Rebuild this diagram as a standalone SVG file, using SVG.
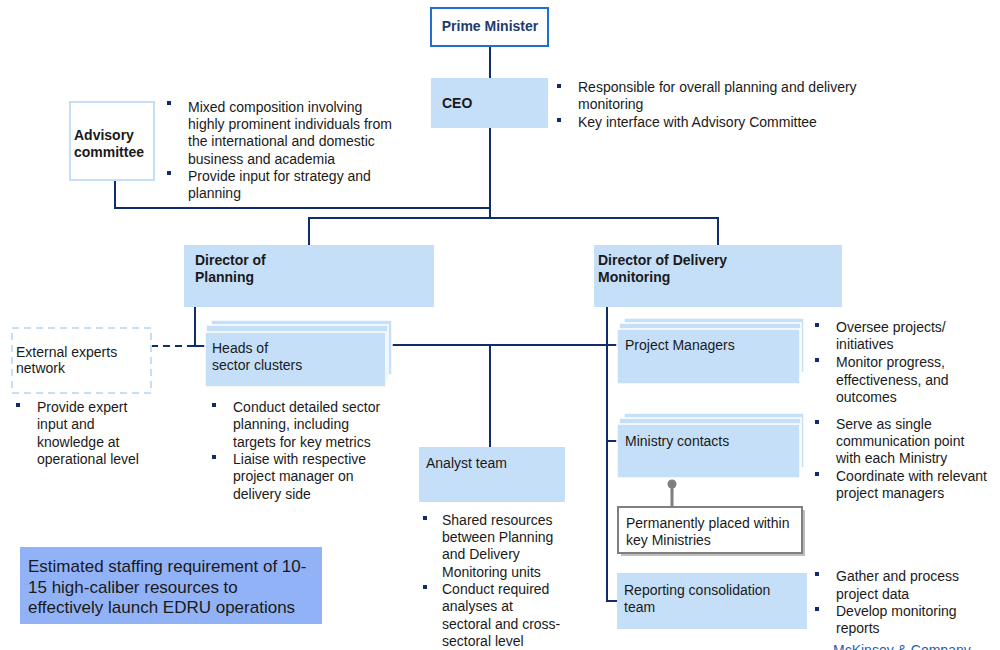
<svg xmlns="http://www.w3.org/2000/svg" width="1000" height="650" viewBox="0 0 1000 650">
<style>
text{font-family:"Liberation Sans",Arial,sans-serif;font-size:14px;fill:#1a1a1a}
.b{font-weight:bold}
.box{fill:#c6dff8}
.stk{fill:#c6dff8;stroke:#ffffff;stroke-width:1.5}
.ln{fill:none;stroke:#0f2d6b;stroke-width:2}
.bul{fill:#0f2d6b}
.big{font-size:17px}
</style>
<defs>
<rect id="sq" width="4" height="4" class="bul"/>
</defs>
<rect width="1000" height="650" fill="#ffffff"/>

<g id="connectors">
<path class="ln" d="M490 46 V78 M490 128 V218 M115 181 V208 H490 M309 245 V218 H718 V245"/>
<path class="ln" d="M195 307 V346 H205"/>
<path d="M151 346 H195" fill="none" stroke="#0f2d6b" stroke-width="2" stroke-dasharray="7,5"/>
<path class="ln" d="M392 345 H617 M490 345 V447"/>
<path class="ln" d="M607 307 V601 H617 M607 441 H617"/>
</g>

<g id="prime-minister">
<rect x="431" y="8" width="117" height="38" fill="#ffffff" stroke="#1f6fcf" stroke-width="2"/>
<text x="490" y="31" class="b" text-anchor="middle" style="fill:#1f3a6e">Prime Minister</text>
</g>

<g id="ceo">
<rect x="431" y="78" width="117" height="50" class="box"/>
<text x="442" y="108" class="b">CEO</text>
<use href="#sq" x="557" y="84"/>
<use href="#sq" x="557" y="118"/>
<text x="578" y="92">Responsible for overall planning and delivery</text>
<text x="578" y="109">monitoring</text>
<text x="578" y="127">Key interface with Advisory Committee</text>
</g>

<g id="advisory">
<rect x="70" y="102" width="84" height="78" fill="#ffffff" stroke="#c6dff8" stroke-width="2"/>
<text x="74" y="140" class="b">Advisory</text>
<text x="74" y="157" class="b">committee</text>
<use href="#sq" x="167" y="101"/>
<use href="#sq" x="167" y="171"/>
<text x="188" y="112">Mixed composition involving</text>
<text x="188" y="129">highly prominent individuals from</text>
<text x="188" y="146">the international and domestic</text>
<text x="188" y="164">business and academia</text>
<text x="188" y="181">Provide input for strategy and</text>
<text x="188" y="198">planning</text>
</g>

<g id="director-planning">
<rect x="184" y="245" width="250" height="62" class="box"/>
<text x="195" y="265" class="b">Director of</text>
<text x="195" y="282" class="b">Planning</text>
</g>

<g id="director-delivery">
<rect x="594" y="245" width="248" height="62" class="box"/>
<text x="598" y="265" class="b">Director of Delivery</text>
<text x="598" y="282" class="b">Monitoring</text>
</g>

<g id="external-experts">
<rect x="12" y="328" width="139" height="65" fill="#ffffff" stroke="#c6dff8" stroke-width="2" stroke-dasharray="7,5"/>
<text x="16" y="357">External experts</text>
<text x="16" y="373">network</text>
<use href="#sq" x="16" y="403"/>
<text x="37" y="412">Provide expert</text>
<text x="37" y="429">input and</text>
<text x="37" y="447">knowledge at</text>
<text x="37" y="464">operational level</text>
</g>

<g id="heads-sector">
<rect x="211" y="320" width="181" height="55" class="stk"/>
<rect x="206" y="325" width="182" height="55" class="stk"/>
<rect x="205" y="332" width="181" height="55" class="stk"/>
<text x="212" y="353">Heads of</text>
<text x="212" y="370">sector clusters</text>
<use href="#sq" x="212" y="403"/>
<use href="#sq" x="212" y="455"/>
<text x="233" y="412">Conduct detailed sector</text>
<text x="233" y="429">planning, including</text>
<text x="233" y="447">targets for key metrics</text>
<text x="233" y="464">Liaise with respective</text>
<text x="233" y="481">project manager on</text>
<text x="233" y="499">delivery side</text>
</g>

<g id="analyst-team">
<rect x="419" y="447" width="146" height="55" class="box"/>
<text x="426" y="468">Analyst team</text>
<use href="#sq" x="423" y="516"/>
<use href="#sq" x="423" y="585"/>
<text x="442" y="525">Shared resources</text>
<text x="442" y="542">between Planning</text>
<text x="442" y="559">and Delivery</text>
<text x="442" y="577">Monitoring units</text>
<text x="442" y="594">Conduct required</text>
<text x="442" y="611">analyses at</text>
<text x="442" y="629">sectoral and cross-</text>
<text x="442" y="646">sectoral level</text>
</g>

<g id="project-managers">
<rect x="624" y="318" width="180" height="55" class="stk"/>
<rect x="619" y="323" width="182" height="55" class="stk"/>
<rect x="617" y="329" width="183" height="55" class="stk"/>
<text x="625" y="350">Project Managers</text>
<use href="#sq" x="815" y="323"/>
<use href="#sq" x="815" y="358"/>
<text x="836" y="332">Oversee projects/</text>
<text x="836" y="349">initiatives</text>
<text x="836" y="367">Monitor progress,</text>
<text x="836" y="385">effectiveness, and</text>
<text x="836" y="402">outcomes</text>
</g>

<g id="ministry-contacts">
<rect x="624" y="413" width="180" height="55" class="stk"/>
<rect x="619" y="418" width="182" height="55" class="stk"/>
<rect x="617" y="424" width="183" height="54" class="stk"/>
<text x="625" y="446">Ministry contacts</text>
<use href="#sq" x="815" y="420"/>
<use href="#sq" x="815" y="472"/>
<text x="836" y="429">Serve as single</text>
<text x="836" y="446">communication point</text>
<text x="836" y="463">with each Ministry</text>
<text x="836" y="481">Coordinate with relevant</text>
<text x="836" y="498">project managers</text>
</g>

<g id="permanently-placed">
<line x1="672" y1="484" x2="672" y2="507" stroke="#7f7f7f" stroke-width="3"/>
<circle cx="672" cy="484" r="4.5" fill="#7f7f7f"/>
<rect x="621" y="510" width="184" height="46" fill="#bdbdbd"/>
<rect x="618" y="507" width="184" height="46" fill="#ffffff" stroke="#7f7f7f" stroke-width="2"/>
<text x="626" y="528">Permanently placed within</text>
<text x="626" y="545">key Ministries</text>
</g>

<g id="reporting-team">
<rect x="617" y="573" width="190" height="56" class="box"/>
<text x="624" y="595">Reporting consolidation</text>
<text x="624" y="612">team</text>
<use href="#sq" x="815" y="572"/>
<use href="#sq" x="815" y="607"/>
<text x="836" y="581">Gather and process</text>
<text x="836" y="599">project data</text>
<text x="836" y="616">Develop monitoring</text>
<text x="836" y="633">reports</text>
</g>

<g id="staffing-note">
<rect x="20" y="547" width="302" height="77" fill="#92b2f7"/>
<text x="28" y="572" class="big">Estimated staffing requirement of 10-</text>
<text x="28" y="593" class="big">15 high-caliber resources to</text>
<text x="28" y="613" class="big">effectively launch EDRU operations</text>
</g>

<g id="footer">
<text x="833" y="655" style="fill:#1f5fa8;font-size:14px">McKinsey &amp; Company</text>
</g>
</svg>
